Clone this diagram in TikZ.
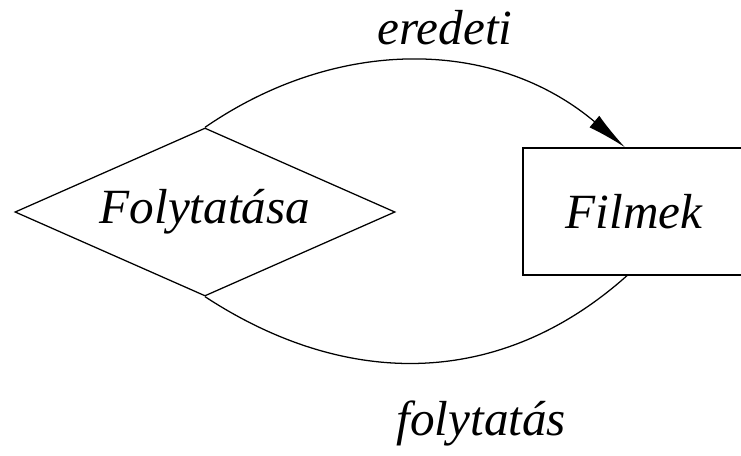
\documentclass[tikz,border=0pt]{standalone}
\usepackage{fontspec}
\setmainfont{Liberation Serif}
\usetikzlibrary{shapes.geometric, arrows.meta, positioning}

\begin{document}
\begin{tikzpicture}[
        x=0.025cm, y=-0.025cm,
        line width=0.9pt,
        txt/.style={font=\fontsize{35}{40}\selectfont\itshape},
        rel/.style={diamond,draw,txt,inner sep=0pt,aspect=2.26,
                    minimum width=9.5cm,minimum height=4.2cm},
        ent/.style={rectangle,draw,txt,
                    minimum width=5.55cm,minimum height=3.175cm},
        arr/.style={-{Latex[length=1cm,width=0.38cm]}}
      ]
        \useasboundingbox (0,0) rectangle (741,455);
        \node[rel] (folyt) at (205,212) {Folytatása};
        \node[ent] (filmek) at (634,211.5) {Filmek};

        \draw[arr] (folyt.north) .. controls (336,37) and (494,37) .. ([xshift=-0.225cm]filmek.north)
            node[pos=0.5,above=0.3cm,xshift=0.75cm,txt] (ered) {eredeti};
        \draw (folyt.south) .. controls (346,389) and (500,389) .. ([xshift=-0.175cm]filmek.south)
            node[pos=0.5,below=0.8cm,xshift=1.5cm,txt] (folyl) {folytatás};
      \end{tikzpicture}
\end{document}
